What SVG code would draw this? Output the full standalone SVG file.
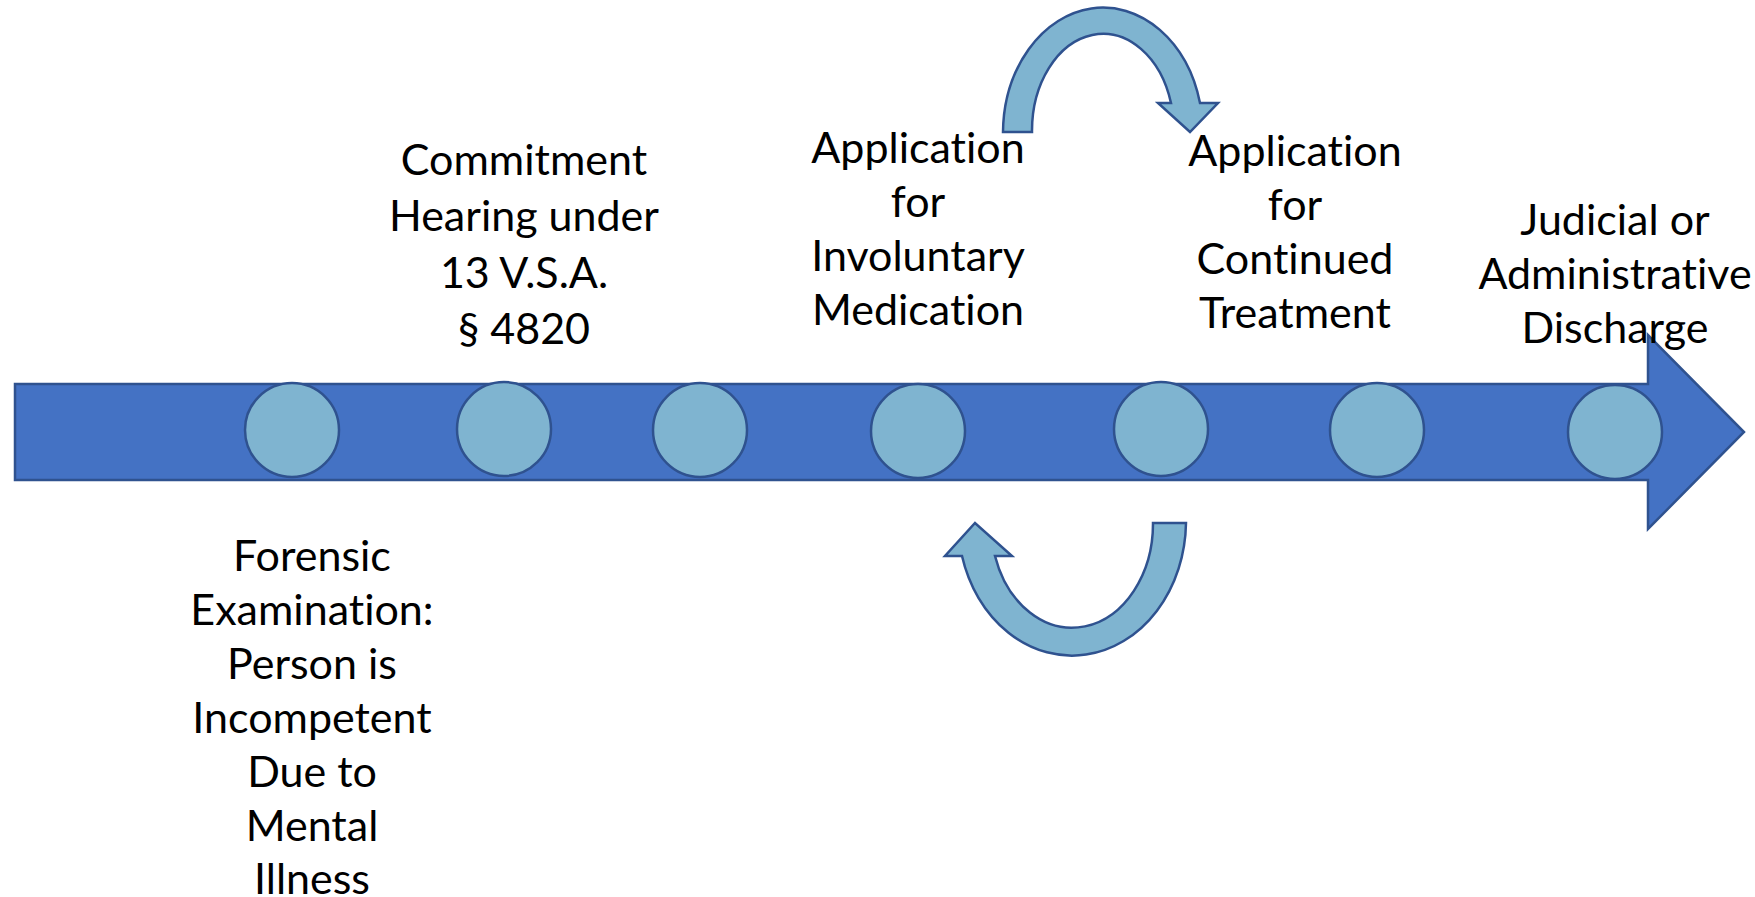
<svg xmlns="http://www.w3.org/2000/svg" width="1755" height="897" viewBox="0 0 1755 897">
<style>
.bar{fill:#4472C4;stroke:#2F528F;stroke-width:2.5}
.dot{fill:#7FB4D0;stroke:#2F528F;stroke-width:2.5}
.curve{fill:#7FB4D0;stroke:#2F528F;stroke-width:2.5;stroke-linejoin:miter}
.lbl{font-family:Lato,"Liberation Sans",sans-serif;font-size:43px;fill:#000;text-anchor:middle;font-variant-ligatures:none;font-feature-settings:"liga" 0,"clig" 0}
</style>
<rect width="1755" height="897" fill="#fff"/>
<g id="timeline">
<path class="bar" d="M15,384 H1648 V335 L1744,432 L1648,529 V480 H15 Z"/>
</g>
<g id="connectors">
<path class="curve" d="M1003,132 A100,126 0 0 1 1200,103 L1218,103 L1190,132 L1158,103 L1171,103 A71,97 0 0 0 1032,132 Z"/>
<path class="curve" d="M1153,523 L1186,523 A114,135 0 0 1 962,556 L945,556 L975,523 L1012,556 L995,556 A81,104 0 0 0 1153,523 Z"/>
</g>
<g id="n1"><circle class="dot" cx="292" cy="430" r="47"/>
<text class="lbl" x="312"><tspan x="312" y="571">Forensic</tspan><tspan x="312" y="625">Examination:</tspan><tspan x="312" y="679">Person is</tspan><tspan x="312" y="733">Incompetent</tspan><tspan x="312" y="787">Due to</tspan><tspan x="312" y="841">Mental</tspan><tspan x="312" y="894">Illness</tspan></text></g>
<g id="n2"><circle class="dot" cx="504" cy="429" r="47"/>
<text class="lbl"><tspan x="524" y="175">Commitment</tspan><tspan x="524" y="231">Hearing under</tspan><tspan x="524" y="288">13 V.S.A.</tspan><tspan x="524" y="344">§ 4820</tspan></text></g>
<g id="n3"><circle class="dot" cx="700" cy="430" r="47"/></g>
<g id="n4"><circle class="dot" cx="918" cy="431" r="47"/>
<text class="lbl"><tspan x="918" y="163">Application</tspan><tspan x="918" y="217">for</tspan><tspan x="918" y="271">Involuntary</tspan><tspan x="918" y="325">Medication</tspan></text></g>
<g id="n5"><circle class="dot" cx="1161" cy="429" r="47"/></g>
<g id="n6"><circle class="dot" cx="1377" cy="430" r="47"/>
<text class="lbl"><tspan x="1295" y="166">Application</tspan><tspan x="1295" y="220">for</tspan><tspan x="1295" y="274">Continued</tspan><tspan x="1295" y="328">Treatment</tspan></text></g>
<g id="n7"><circle class="dot" cx="1615" cy="432" r="47"/>
<text class="lbl"><tspan x="1615" y="235">Judicial or</tspan><tspan x="1615" y="289">Administrative</tspan><tspan x="1615" y="343">Discharge</tspan></text></g>
</svg>
